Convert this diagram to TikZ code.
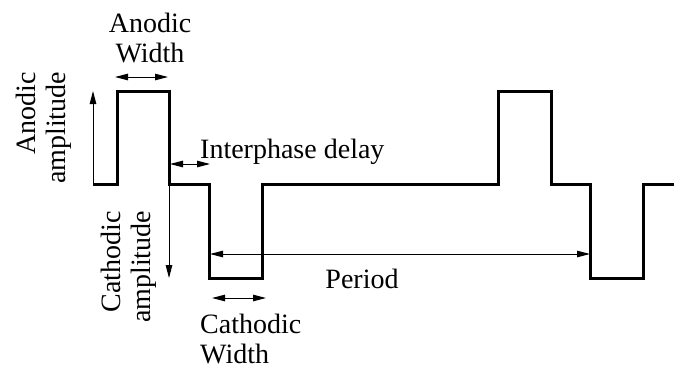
\documentclass[tikz,border=0pt]{standalone}
\usepackage{fontspec}
\setmainfont{Liberation Serif}
\usetikzlibrary{arrows.meta}

\begin{document}
\begin{tikzpicture}[x=1pt,y=-1pt,>={Triangle[length=13pt,width=6.5pt]},
  wave/.style={line width=3pt,line join=miter},
  dim/.style={line width=1pt},
  lbl/.style={font=\fontsize{28}{30}\selectfont,inner sep=0pt}]
\useasboundingbox (0,0) rectangle (680,368);

% corners of the pulse train
\foreach \n/\x/\y in {0/93/184,1/117/184,2/117/91,3/169/91,4/169/184,5/209/184,
  6/209/278,7/262/278,8/262/184,9/498/184,10/498/91,11/551/91,12/551/184,
  13/590/184,14/590/278,15/643/278,16/643/184,17/674/184}
  \coordinate (w\n) at (\x,\y);
\draw[wave] (w0) \foreach \n in {1,...,17}{ -- (w\n)};

% ends of the dimension arrows
\coordinate (aw1) at (115,77);
\coordinate (aw2) at (168,77);
\coordinate (ip1) at (170,164);
\coordinate (ip2) at (210,164);
\coordinate (cw1) at (212,298);
\coordinate (cw2) at (266,298);
\coordinate (pe1) at (210,254);
\coordinate (pe2) at (590,254);

% dimension arrows
\draw[dim,->] (w0) -- (w0 |- w2);
\draw[dim,->] (w4) -- (w4 |- w6);
\draw[dim,<->] (aw1) -- (aw2);
\draw[dim,<->] (ip1) -- (ip2);
\draw[dim,<->] (cw1) -- (cw2);
\draw[dim,<->] (pe1) -- (pe2);

% labels
\node[lbl,align=center] (anwidth) at (150,38) {Anodic\\Width};
\node[lbl,rotate=90,align=right] (anamp) at (44,128) {Anodic\\amplitude};
\node[lbl,anchor=base west] (ipdelay) at (200,158) {Interphase delay};
\node[lbl,rotate=90,align=right] (caamp) at (129,267) {Cathodic\\amplitude};
\node[lbl,anchor=base] (period) at (362,288) {Period};
\node[lbl,align=left,anchor=north west] (cawidth) at (200,314) {Cathodic\\Width};
\end{tikzpicture}
\end{document}
